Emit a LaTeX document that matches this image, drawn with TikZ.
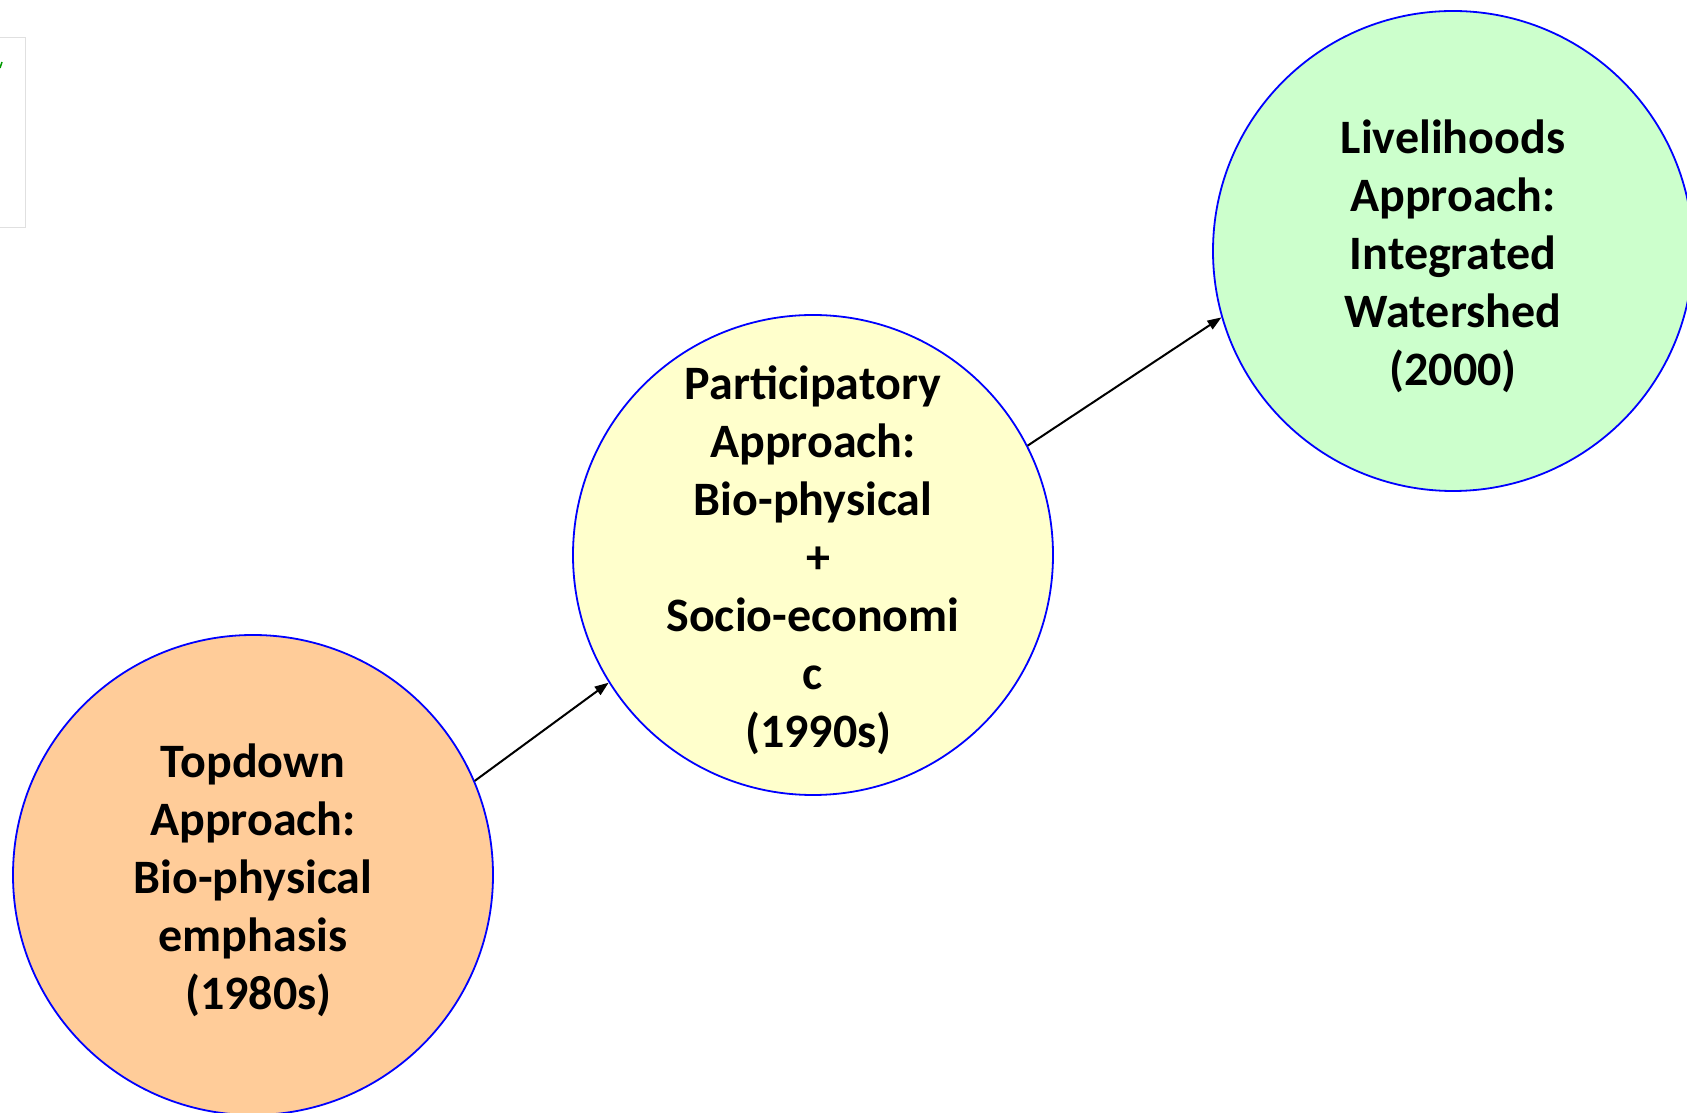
\documentclass[tikz,border=0pt]{standalone}
\usepackage{fontspec}
\setmainfont{Carlito}
\usetikzlibrary{arrows.meta}
\definecolor{peach}{HTML}{FFCC99}
\definecolor{paleyellow}{HTML}{FFFFCC}
\definecolor{palegreen}{HTML}{CCFFCC}
\definecolor{ringblue}{HTML}{0000FF}
\tikzset{
  stage/.style={circle, draw=ringblue, line width=1.8pt, minimum size=480pt, inner sep=0pt},
  stagetext/.style={align=center, inner sep=0pt, font=\fontsize{48}{58}\selectfont\bfseries, text=black},
  link/.style={line width=2pt, -{Triangle[length=14pt,width=10pt]}}
}
\begin{document}
\begin{tikzpicture}[x=1pt,y=1pt]
\useasboundingbox (0,0) rectangle (1687,1112);
\clip (0,0) rectangle (1687,1112);
% fragment at top-left
\draw[black!12, line width=1pt] (0,1074) -- (25,1074) -- (25,884) -- (0,884);
\draw[green!60!black, line width=1.5pt] (0,1044) -- (2,1050);
\node[stage, fill=peach] (top) at (253,237) {};
\node[stage, fill=paleyellow] (part) at (813,557) {};
\node[stage, fill=palegreen] (live) at (1453,861) {};
\node[stagetext] (toptext) at ([yshift=-5.5pt]top.center) {Topdown\\Approach:\\Bio-physical\\emphasis\\\ (1980s)};
\node[stagetext] (parttext) at ([yshift=-5pt]part.center) {Participatory\\Approach:\\Bio-physical\\\ +\\Socio-economi\\c\\\ (1990s)};
\node[stagetext] (livetext) at ([yshift=-5.5pt]live.center) {Livelihoods\\Approach:\\Integrated\\Watershed\\(2000)};
\draw[link] (top.23) -- (part.212);
\draw[link] (part.27) -- (live.196);
\end{tikzpicture}
\end{document}
